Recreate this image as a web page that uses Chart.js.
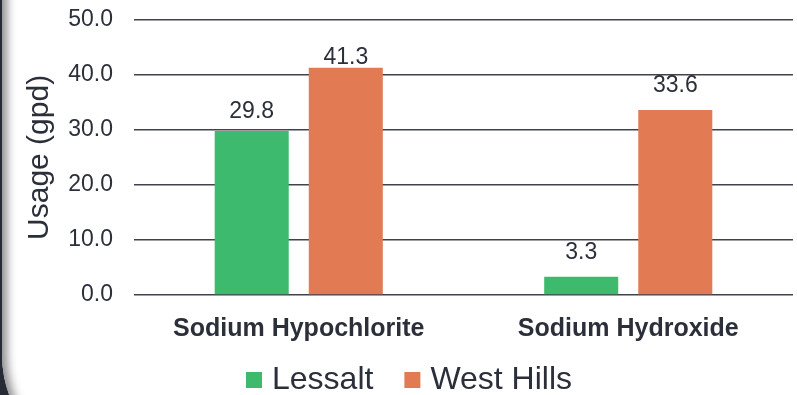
<!DOCTYPE html>
<html>
<head>
<meta charset="utf-8">
<script src="https://cdn.jsdelivr.net/npm/chart.js@4/dist/chart.umd.min.js"></script>
<style>
  html, body { margin: 0; padding: 0; }
  body { width: 797px; height: 395px; overflow: hidden; background: #262b36; position: relative; }
  #panel {
    position: absolute; left: 2px; top: -60px; width: 860px; height: 530px;
    background: #ffffff;
    border-bottom-left-radius: 115px;
    box-shadow: inset 11px 0 10px -6px rgba(0,0,0,0.45), inset 1px 0 0 rgba(255,255,255,0.6);
  }
  #wrap { position: absolute; left: 0; top: 0; width: 797px; height: 395px; }
</style>
</head>
<body>
<div id="panel"></div>
<div id="wrap"><canvas id="chart" width="797" height="395"></canvas></div>
<script>
// Chemical usage by site, gallons per day
const categories = ['Sodium Hypochlorite', 'Sodium Hydroxide'];
const lessalt = [29.8, 3.3];
const westHills = [41.3, 33.6];
const yTicks = [0, 10, 20, 30, 40, 50];

const textColor = '#2b2f3a';
const fontFamily = '"Liberation Sans", Arial, Helvetica, sans-serif';

// Writes each bar's value just above its top
const valueLabels = {
  id: 'valueLabels',
  afterDatasetsDraw(chart, args, opts) {
    const ctx = chart.ctx;
    ctx.save();
    ctx.font = opts.size + 'px ' + fontFamily;
    ctx.fillStyle = textColor;
    ctx.textAlign = 'center';
    ctx.textBaseline = 'alphabetic';
    chart.data.datasets.forEach((ds, di) => {
      const meta = chart.getDatasetMeta(di);
      meta.data.forEach((bar, i) => {
        const gap = (opts.gaps[di] && opts.gaps[di][i] != null) ? opts.gaps[di][i] : opts.gap;
        ctx.fillText(ds.data[i].toFixed(1), bar.x, bar.y - gap);
      });
    });
    ctx.restore();
  }
};

// Lets the category labels run into the band below the axis box
const looseCategoryLabels = {
  id: 'looseCategoryLabels',
  afterLayout(chart) {
    chart.scales.x.bottom = chart.height;
  }
};

new Chart(document.getElementById('chart'), {
  type: 'bar',
  data: {
    labels: categories,
    datasets: [
      { label: 'Lessalt', data: lessalt, backgroundColor: '#3dba6e' },
      { label: 'West Hills', data: westHills, backgroundColor: '#e27b54' }
    ]
  },
  plugins: [valueLabels, looseCategoryLabels],
  options: {
    responsive: false,
    animation: false,
    devicePixelRatio: 1,
    categoryPercentage: 0.571,
    barPercentage: 0.787,
    layout: { padding: { left: 31, right: 4, top: 0, bottom: -11 } },
    plugins: {
      tooltip: { enabled: false },
      legend: {
        position: 'bottom',
        labels: {
          usePointStyle: true, pointStyle: 'rect',
          boxWidth: 4, boxHeight: 16, padding: 37,
          color: textColor,
          font: { family: fontFamily, size: 32 }
        }
      },
      valueLabels: { size: 23, gap: 13, gaps: [[13, 18], [4, 18]] }
    },
    scales: {
      x: {
        afterFit(scale) { scale.height = 32; },
        grid: { display: false, drawTicks: false },
        border: { display: false },
        ticks: {
          padding: 19,
          color: textColor,
          font: { family: fontFamily, size: 25, weight: 'bold' }
        }
      },
      y: {
        min: 0, max: 50,
        afterFit(scale) { scale.width = 103; },
        afterBuildTicks(scale) { scale.ticks = yTicks.map(v => ({ value: v })); },
        grid: { color: '#40434c', lineWidth: 1.5, drawTicks: true, tickLength: 15, tickColor: 'rgba(0,0,0,0)' },
        border: { display: false },
        ticks: {
          padding: 6,
          color: textColor,
          font: { family: fontFamily, size: 23 },
          callback: v => Number(v).toFixed(1)
        },
        title: {
          display: true,
          text: 'Usage (gpd)',
          color: textColor,
          padding: { top: -9, bottom: 0 },
          font: { family: fontFamily, size: 30 }
        }
      }
    }
  }
});
</script>
</body>
</html>
